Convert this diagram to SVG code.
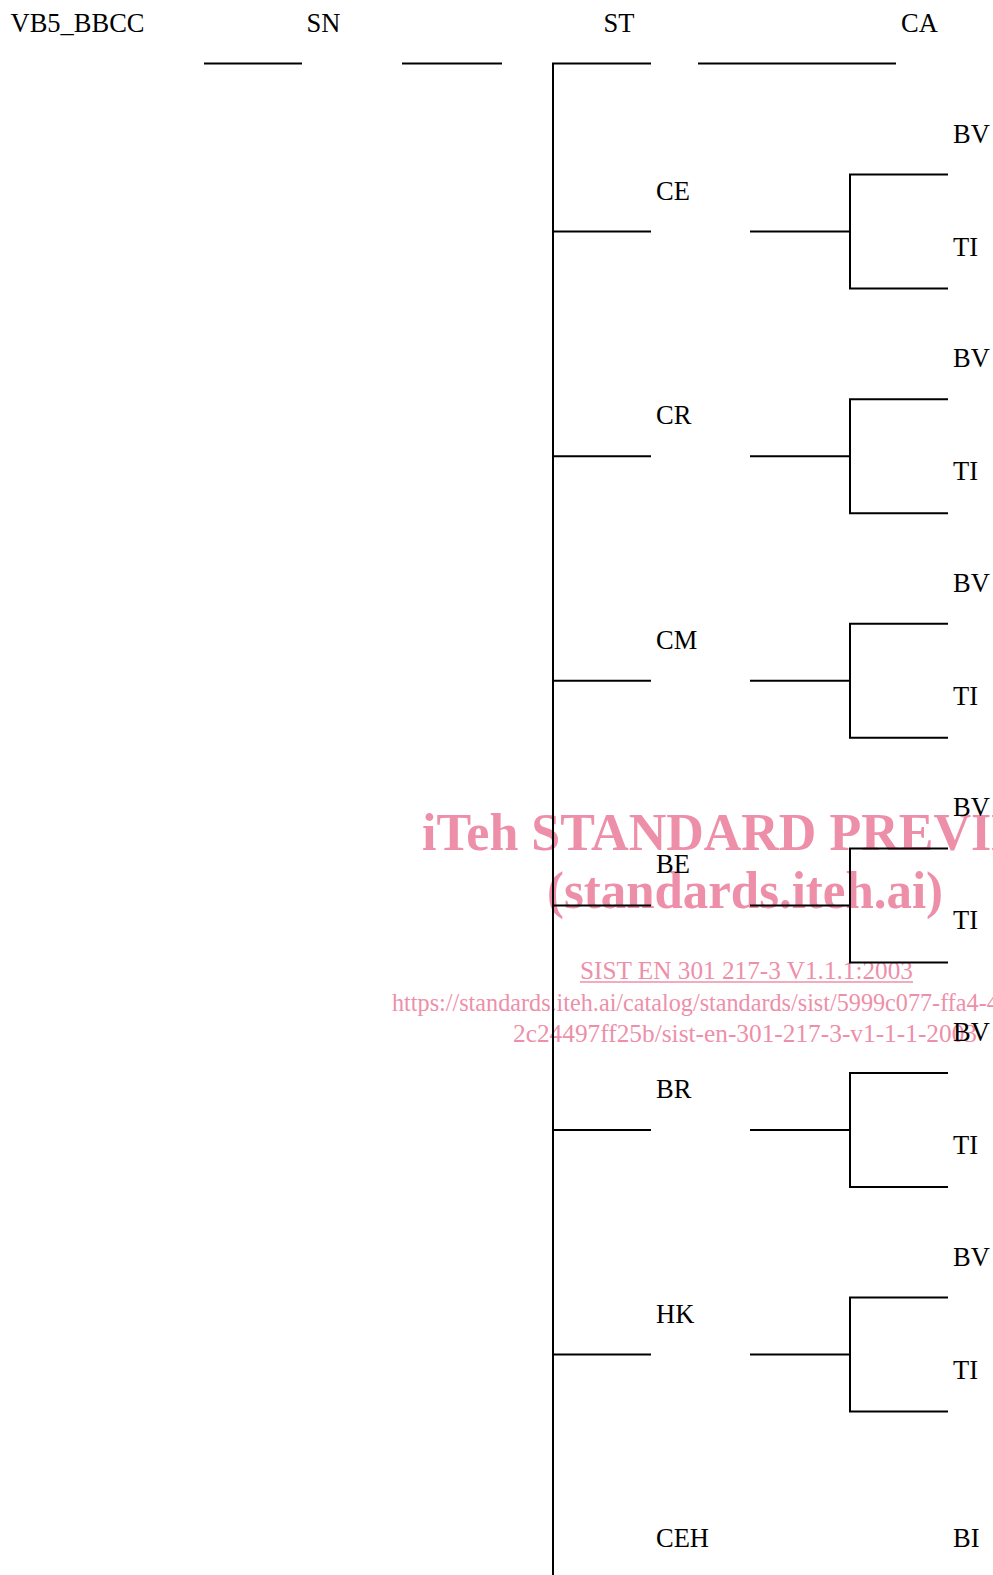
<svg xmlns="http://www.w3.org/2000/svg" width="993" height="1575" viewBox="0 0 993 1575">
<style>
.t{font-family:"Liberation Serif","Times New Roman",serif;font-size:26.5px;fill:#000}
.c{stroke:#000;stroke-width:2;fill:none}
.wb{font-family:"Liberation Serif","Times New Roman",serif;font-weight:bold;font-size:52px;fill:#EE8FAA}
.wr{font-family:"Liberation Serif","Times New Roman",serif;font-size:25px;fill:#EE8FAA}
</style>
<rect width="993" height="1575" fill="#fff"/>
<g id="watermark">
<text class="wb" x="422" y="850">iTeh STANDARD PREVIEW</text>
<text class="wb" x="547" y="908" textLength="396" lengthAdjust="spacingAndGlyphs">(standards.iteh.ai)</text>
<text class="wr" x="580" y="979" textLength="333" lengthAdjust="spacingAndGlyphs">SIST EN 301 217-3 V1.1.1:2003</text>
<line x1="580" y1="982" x2="913" y2="982" stroke="#EE8FAA" stroke-width="1.3"/>
<text class="wr" x="392" y="1011" style="font-size:24.2px">https://standards.iteh.ai/catalog/standards/sist/5999c077-ffa4-4</text>
<text class="wr" x="513" y="1042" textLength="464" lengthAdjust="spacingAndGlyphs">2c24497ff25b/sist-en-301-217-3-v1-1-1-2003</text>
</g>
<g id="connectors">
<line class="c" x1="204" y1="63.5" x2="302" y2="63.5"/>
<line class="c" x1="402" y1="63.5" x2="502" y2="63.5"/>
<path class="c" d="M651 63.5 H553 V1575"/>
<line class="c" x1="698" y1="63.5" x2="896" y2="63.5"/>
<g id="branch-CE-lines"><line class="c" x1="553" y1="231.6" x2="651" y2="231.6"/><line class="c" x1="750" y1="231.6" x2="850" y2="231.6"/><path class="c" d="M948 174.6 H850 V288.6 H948"/></g>
<g id="branch-CR-lines"><line class="c" x1="553" y1="456.2" x2="651" y2="456.2"/><line class="c" x1="750" y1="456.2" x2="850" y2="456.2"/><path class="c" d="M948 399.2 H850 V513.2 H948"/></g>
<g id="branch-CM-lines"><line class="c" x1="553" y1="680.8" x2="651" y2="680.8"/><line class="c" x1="750" y1="680.8" x2="850" y2="680.8"/><path class="c" d="M948 623.8 H850 V737.8 H948"/></g>
<g id="branch-BE-lines"><line class="c" x1="553" y1="905.4" x2="651" y2="905.4"/><line class="c" x1="750" y1="905.4" x2="850" y2="905.4"/><path class="c" d="M948 848.4 H850 V962.4 H948"/></g>
<g id="branch-BR-lines"><line class="c" x1="553" y1="1130" x2="651" y2="1130"/><line class="c" x1="750" y1="1130" x2="850" y2="1130"/><path class="c" d="M948 1073 H850 V1187 H948"/></g>
<g id="branch-HK-lines"><line class="c" x1="553" y1="1354.6" x2="651" y2="1354.6"/><line class="c" x1="750" y1="1354.6" x2="850" y2="1354.6"/><path class="c" d="M948 1297.6 H850 V1411.6 H948"/></g>
</g>
<g id="VB5_BBCC"><text class="t" x="10.5" y="32">VB5_BBCC</text></g>
<g id="SN"><text class="t" x="306.5" y="32">SN</text></g>
<g id="ST"><text class="t" x="603.5" y="32">ST</text></g>
<g id="CA"><text class="t" x="901" y="32">CA</text></g>
<g id="CE"><text class="t" x="656" y="199.6">CE</text><text class="t" x="953" y="142.6">BV</text><text class="t" x="953" y="255.6">TI</text></g>
<g id="CR"><text class="t" x="656" y="424.2">CR</text><text class="t" x="953" y="367.2">BV</text><text class="t" x="953" y="480.2">TI</text></g>
<g id="CM"><text class="t" x="656" y="648.8">CM</text><text class="t" x="953" y="591.8">BV</text><text class="t" x="953" y="704.8">TI</text></g>
<g id="BE"><text class="t" x="656" y="873.4">BE</text><text class="t" x="953" y="816.4">BV</text><text class="t" x="953" y="929.4">TI</text></g>
<g id="BR"><text class="t" x="656" y="1098">BR</text><text class="t" x="953" y="1041">BV</text><text class="t" x="953" y="1154">TI</text></g>
<g id="HK"><text class="t" x="656" y="1322.6">HK</text><text class="t" x="953" y="1265.6">BV</text><text class="t" x="953" y="1378.6">TI</text></g>
<g id="CEH"><text class="t" x="656" y="1547">CEH</text></g>
<g id="BI"><text class="t" x="953" y="1547">BI</text></g>
</svg>
